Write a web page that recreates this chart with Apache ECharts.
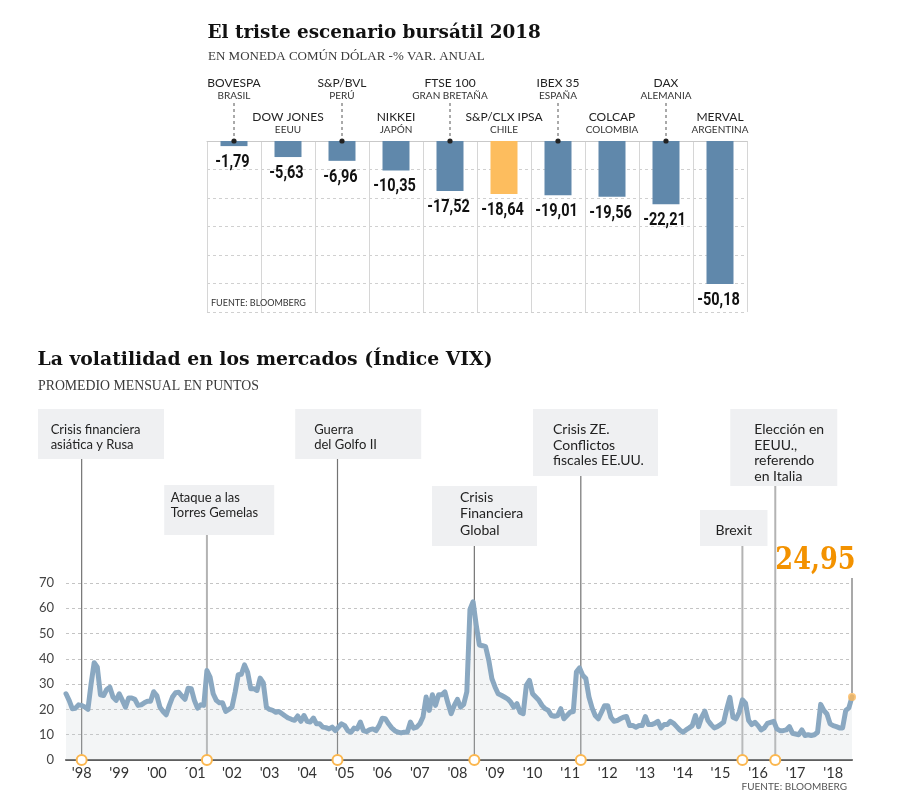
<!DOCTYPE html>
<html><head><meta charset="utf-8">
<script src="https://cdn.jsdelivr.net/npm/echarts@6/dist/echarts.min.js"></script>
<style>html,body{margin:0;padding:0;background:#fff}#c{width:900px;height:805px}</style>
</head><body><div id="c"></div>
<script>
// ---------- DATA: bar chart (2018 stock market change, % in USD) ----------
const indexNames = ['BOVESPA','DOW JONES','S&P/BVL','NIKKEI','FTSE 100','S&P/CLX IPSA','IBEX 35','COLCAP','DAX','MERVAL'];
const indexCountries = ['BRASIL','EEUU','PERÚ','JAPÓN','GRAN BRETAÑA','CHILE','ESPAÑA','COLOMBIA','ALEMANIA','ARGENTINA'];
const changes2018 = [-1.79,-5.63,-6.96,-10.35,-17.52,-18.64,-19.01,-19.56,-22.21,-50.18];
const highlightedIndex = 'S&P/CLX IPSA';

// ---------- DATA: VIX monthly average, Jan 1998 .. Dec 2018 ----------
const vixStartYear = 1998;
const vixMonthly = [
 26.2,23.6,20.3,20.5,21.8,21.6,21.0,20.0,30.0,38.5,36.7,25.8,
 25.5,27.9,28.8,24.9,23.6,26.2,23.6,20.9,24.5,24.5,24.0,21.6,
 21.8,22.6,23.2,23.2,27.0,25.5,20.9,19.2,17.9,21.6,24.9,26.6,
 26.8,25.3,24.0,28.4,28.2,23.6,20.5,21.8,21.6,35.4,32.8,26.2,
 23.6,22.6,22.6,19.2,20.0,20.9,26.8,33.7,33.9,37.6,34.7,28.2,
 28.2,27.5,32.4,30.5,20.9,20.0,19.6,18.9,19.2,18.3,17.4,16.6,
 16.1,15.7,17.4,15.3,17.6,15.3,15.0,16.6,14.3,14.3,13.0,12.8,
 12.3,13.0,11.6,13.0,14.3,13.6,11.6,11.0,12.6,12.3,15.0,11.6,
 11.2,12.0,12.3,11.6,13.6,16.5,16.3,14.3,12.7,11.6,11.0,10.7,
 11.0,11.0,15.0,12.6,13.0,14.3,17.0,24.9,19.6,25.8,21.6,25.8,
 25.8,26.9,22.3,18.3,21.6,24.0,20.9,22.0,27.0,59.5,62.6,53.4,
 45.5,45.2,44.8,39.5,32.2,28.9,26.2,25.6,24.9,24.2,22.9,20.9,
 22.3,18.9,18.3,29.5,31.5,26.2,24.9,23.6,21.6,20.3,19.6,17.6,
 17.3,17.6,20.3,16.3,17.6,18.9,19.2,34.9,36.4,33.5,32.2,24.9,
 20.6,17.6,16.3,18.9,21.5,21.5,16.9,15.3,15.6,16.3,16.9,17.2,
 13.6,13.6,13.0,13.6,13.6,17.2,14.0,14.0,14.5,15.3,12.7,14.0,
 14.0,15.3,14.5,13.2,11.9,11.0,11.9,12.7,13.6,17.6,13.2,16.9,
 19.3,15.6,14.0,12.7,13.2,14.0,14.9,20.2,24.8,16.9,16.3,18.9,
 23.8,22.5,15.6,14.0,14.9,13.6,11.9,12.7,14.5,14.9,15.3,12.3,
 11.6,11.6,11.9,13.2,10.6,10.3,10.0,11.9,9.7,10.0,9.7,10.0,
 11.0,22.0,19.6,18.2,14.3,13.6,13.2,12.7,12.7,19.6,20.6,24.95
];
const yearTickLabels = ["'98","'99","'00","´01","'02","'03","'04","'05","'06","'07","'08","'09","'10","'11","'12","'13","'14","'15","'16","'17","'18"];

// events: month index (0 = Jan 1998) and text
const eventMonths = [5, 45, 86.7, 130.4, 164.4, 216, 226.5];
const eventTexts = [
  ['Crisis financiera','asiática y Rusa'],
  ['Ataque a las','Torres Gemelas'],
  ['Guerra','del Golfo II'],
  ['Crisis','Financiera','Global'],
  ['Crisis ZE.','Conflictos','fiscales EE.UU.'],
  ['Brexit'],
  ['Elección en','EEUU.,','referendo','en Italia']
];
const lastValueLabel = '24,95';

// ---------- LAYOUT (not data) ----------
const eventBoxes = [
  {dx:-43.7, top:409, w:126, h:50, pad:12.7, first:21, fs:13, lh:14.5, tone:'dark'},
  {dx:-42.7, top:485, w:110, h:50, pad:6.5, first:13.3, fs:13, lh:15, tone:'light'},
  {dx:-42.3, top:409, w:126, h:50, pad:19, first:21, fs:13, lh:14.5, tone:'dark'},
  {dx:-42.3, top:486, w:105, h:60, pad:28, first:11.5, fs:14, lh:16.3, tone:'dark'},
  {dx:-47.8, top:409, w:125, h:67, pad:20, first:20.3, fs:14, lh:15.8, tone:'dark'},
  {dx:-42.4, top:510, w:67.5, h:36, pad:null, first:20, fs:14, lh:16, tone:'light'},
  {dx:-45, top:409, w:107, h:77, pad:24, first:20.3, fs:14, lh:15.8, tone:'light'}
];
const SANS = 'Lato, "Noto Sans", sans-serif';
const SERIF = '"DejaVu Serif", serif';
const LSERIF = '"Liberation Serif", serif';
const VALFONT = 'bold 17.5px Roboto, "Liberation Sans", sans-serif';

const fmtComma = v => v.toFixed(2).replace('.', ',');
const monthCats = vixMonthly.map((_, i) => (vixStartYear + Math.floor(i / 12)) + '-' + String(i % 12 + 1).padStart(2, '0'));

const chart = echarts.init(document.getElementById('c'));

const option = {
  animation: false,
  backgroundColor: '#fff',
  grid: [
    {left: 207, top: 141, width: 540, height: 171},
    {left: 66, top: 583, width: 786, height: 177}
  ],
  xAxis: [
    {
      type: 'category', gridIndex: 0, position: 'top', data: indexNames,
      axisLine: {show: true, lineStyle: {color: '#c9c9c9', width: 1}},
      axisTick: {show: false},
      splitLine: {show: true, interval: 0, lineStyle: {color: '#d6d6d6', width: 1}},
      axisLabel: {
        interval: 0, margin: 5,
        formatter: (v, i) => '{n|' + v + '}\n{c|' + indexCountries[i] + '}' + (i % 2 === 0 ? '\n{s| }' : ''),
        rich: {
          n: {fontFamily: SANS, fontSize: 12, color: '#222', lineHeight: 13, align: 'center'},
          c: {fontFamily: SANS, fontSize: 10, color: '#333', lineHeight: 12, align: 'center'},
          s: {fontSize: 8, lineHeight: 34}
        }
      }
    },
    {
      type: 'category', gridIndex: 1, boundaryGap: false, data: monthCats,
      axisLine: {show: true, lineStyle: {color: '#5e5e5e', width: 2}},
      axisTick: {show: false},
      splitLine: {show: false},
      axisLabel: {
        interval: (i) => i % 12 === 5,
        formatter: (v, i) => yearTickLabels[Math.floor(i / 12)],
        margin: 6, fontFamily: SANS, fontSize: 14.5, color: '#333'
      }
    }
  ],
  yAxis: [
    {
      type: 'value', gridIndex: 0, min: -60, max: 0, interval: 10,
      axisLabel: {show: false}, axisLine: {show: false}, axisTick: {show: false},
      splitLine: {show: true, lineStyle: {color: '#d0d0d0', type: [3, 3]}}
    },
    {
      type: 'value', gridIndex: 1, min: 0, max: 70, interval: 10,
      axisLabel: {fontFamily: SANS, fontSize: 13, color: '#444', margin: 12},
      axisLine: {show: false}, axisTick: {show: false},
      splitLine: {show: true, lineStyle: {color: '#c4c4c4', type: [3, 3]}}
    }
  ],
  series: [
    {
      type: 'bar', xAxisIndex: 0, yAxisIndex: 0, barWidth: 27,
      data: changes2018.map((v, i) => ({value: v, itemStyle: {color: indexNames[i] === highlightedIndex ? '#fdbd5e' : '#6088ab'}})),
      label: {show: false}
    },
    {
      type: 'line', xAxisIndex: 1, yAxisIndex: 1, data: vixMonthly, showSymbol: false, z: 3,
      lineStyle: {color: '#8aa8c1', width: 5, join: 'round', cap: 'round'},
      areaStyle: {color: 'rgba(205,210,217,0.33)'}
    },
    {
      type: 'scatter', xAxisIndex: 1, yAxisIndex: 1, z: 6,
      data: [[vixMonthly.length - 1, vixMonthly[vixMonthly.length - 1]]],
      symbolSize: 8, itemStyle: {color: '#fdb85a'}
    }
  ]
};
chart.setOption(option);

function xAt(axisIndex, idx) {
  const i0 = Math.floor(idx), f = idx - i0;
  const a = chart.convertToPixel({xAxisIndex: axisIndex}, i0);
  if (!f) return a;
  const b = chart.convertToPixel({xAxisIndex: axisIndex}, i0 + 1);
  return a + (b - a) * f;
}

const g = [];
// titles
g.push({type: 'text', z: 50, style: {text: 'El triste escenario bursátil 2018', x: 207.5, y: 33, font: 'bold 18.4px ' + SERIF, fill: '#111', verticalAlign: 'middle'}});
g.push({type: 'text', z: 50, style: {text: 'EN MONEDA COMÚN DÓLAR -% VAR. ANUAL', x: 208, y: 56.5, font: '13px ' + LSERIF, fill: '#3a3a3a', verticalAlign: 'middle'}});
g.push({type: 'text', z: 50, style: {text: 'La volatilidad en los mercados (Índice VIX)', x: 37.5, y: 360.5, font: 'bold 18.8px ' + SERIF, fill: '#111', verticalAlign: 'middle'}});
g.push({type: 'text', z: 50, style: {text: 'PROMEDIO MENSUAL EN PUNTOS', x: 38, y: 386, font: '13.8px ' + LSERIF, fill: '#3a3a3a', verticalAlign: 'middle'}});
g.push({type: 'text', z: 50, style: {text: 'FUENTE: BLOOMBERG', x: 211, y: 303, font: '9px ' + SANS, fill: '#333', verticalAlign: 'middle'}});
g.push({type: 'text', z: 50, style: {text: 'FUENTE: BLOOMBERG', x: 847, y: 787, font: '10px ' + SANS, fill: '#555', align: 'right', verticalAlign: 'middle'}});

// bar value labels (condensed) and leader lines in top chart
const zeroY = chart.convertToPixel({yAxisIndex: 0}, 0);
changes2018.forEach((v, i) => {
  const p = chart.convertToPixel({xAxisIndex: 0, yAxisIndex: 0}, [i, v]);
  g.push({type: 'text', z: 30, x: p[0] - 1.5, y: p[1] + 16.5, scaleX: 0.83,
    style: {text: fmtComma(v), x: 0, y: 0, font: VALFONT, fill: '#111', align: 'center', verticalAlign: 'middle'}});
});
indexNames.forEach((n, i) => {
  if (i % 2 !== 0) return;
  const x = xAt(0, i);
  g.push({type: 'line', z: 20, shape: {x1: x, y1: 103, x2: x, y2: zeroY - 3}, style: {stroke: '#555', lineWidth: 1, lineDash: [3, 3]}});
  g.push({type: 'circle', z: 21, shape: {cx: x, cy: zeroY, r: 2.6}, style: {fill: '#222'}});
});

// events in VIX chart
const axisY = chart.convertToPixel({yAxisIndex: 1}, 0);
eventMonths.forEach((m, k) => {
  const b = eventBoxes[k];
  const x = xAt(1, m);
  const left = x + b.dx;
  const dark = b.tone === 'dark';
  g.push({type: 'rect', z: 1, shape: {x: left, y: b.top, width: b.w, height: b.h}, style: {fill: '#eff0f2'}});
  g.push({type: 'line', z: 1, shape: {x1: x, y1: b.top + b.h, x2: x, y2: axisY}, style: {stroke: dark ? '#737373' : '#b3b3b3', lineWidth: dark ? 1.2 : 2}});
  eventTexts[k].forEach((t, j) => {
    g.push({type: 'text', z: 30, style: {
      text: t, x: b.pad == null ? left + b.w / 2 : left + b.pad, y: b.top + b.first + j * b.lh,
      font: b.fs + 'px ' + SANS, fill: '#222', align: b.pad == null ? 'center' : 'left', verticalAlign: 'middle'}});
  });
  g.push({type: 'circle', z: 40, shape: {cx: x, cy: axisY, r: 5}, style: {fill: '#fff', stroke: '#fbb74f', lineWidth: 2}});
});

// last value annotation
const lastIdx = vixMonthly.length - 1;
const lp = chart.convertToPixel({xAxisIndex: 1, yAxisIndex: 1}, [lastIdx, vixMonthly[lastIdx]]);
g.push({type: 'line', z: 1, shape: {x1: lp[0], y1: 578, x2: lp[0], y2: lp[1] - 4}, style: {stroke: '#707070', lineWidth: 1.2}});
g.push({type: 'text', z: 30, x: lp[0] + 3.5, y: 561, scaleX: 0.8,
  style: {text: lastValueLabel, x: 0, y: 0, font: 'bold 32px ' + SERIF, fill: '#f39200', align: 'right', verticalAlign: 'middle'}});

chart.setOption({graphic: {elements: g}});
</script>
</body></html>
